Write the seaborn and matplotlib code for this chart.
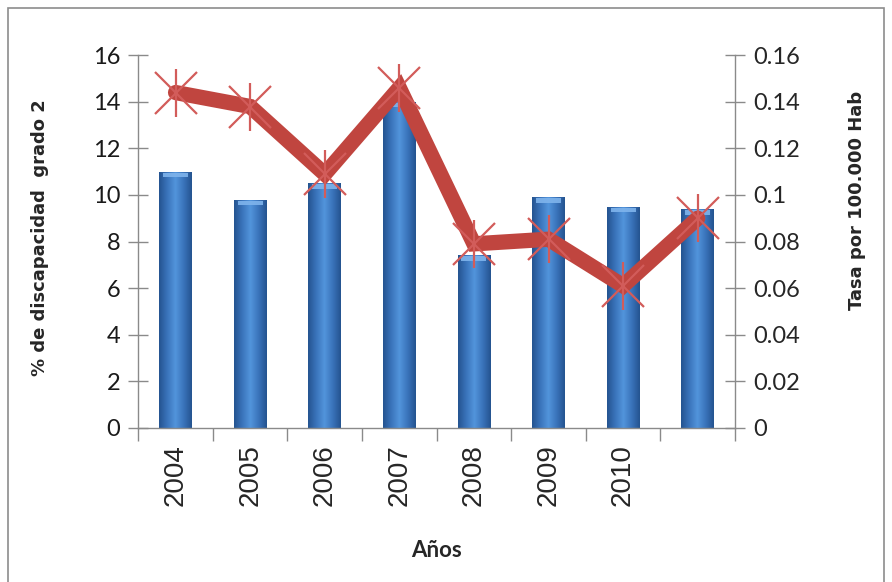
import numpy as np
import pandas as pd
import matplotlib
matplotlib.use("Agg")
import matplotlib.pyplot as plt
from matplotlib.patches import Rectangle
from matplotlib.colors import LinearSegmentedColormap
from matplotlib.ticker import FixedLocator, FuncFormatter
import seaborn as sns

# Data
years = ["2004", "2005", "2006", "2007", "2008", "2009", "2010", ""]
pct_grade2 = [11.0, 9.8, 10.5, 14.0, 7.4, 9.9, 9.5, 9.4]
rate_100k = [0.144, 0.138, 0.109, 0.146, 0.079, 0.081, 0.061, 0.090]

left_ticks = [0, 2, 4, 6, 8, 10, 12, 14, 16]
right_ticks = [0, 0.02, 0.04, 0.06, 0.08, 0.10, 0.12, 0.14, 0.16]

df = pd.DataFrame({"year": years, "pct": pct_grade2, "rate": rate_100k})
df["pos"] = np.arange(len(df))

sns.set_theme(style="white")
plt.rcParams["font.family"] = ["Lato", "DejaVu Sans"]

AXIS_GREY = "#8a8a8a"
LINE_RED = "#c0453f"
MARK_RED = "#d25c5a"

fig = plt.figure(figsize=(8.92, 5.82), dpi=100)
ax = fig.add_axes([0.155, 0.265, 0.669, 0.64])

sns.barplot(data=df, x="year", y="pct", order=years, ax=ax,
            width=0.44, color="#3f7cc4", saturation=1, edgecolor="none")

# cylinder-like shading on every bar
shade = LinearSegmentedColormap.from_list(
    "bar", ["#24538f", "#3a74bb", "#5295dc", "#3a74bb", "#24538f"])
grad = np.linspace(0, 1, 256).reshape(1, -1)
for p in ax.patches:
    x0, y0 = p.get_x(), p.get_y()
    w, h = p.get_width(), p.get_height()
    im = ax.imshow(grad, cmap=shade, aspect="auto",
                   extent=(x0, x0 + w, y0, y0 + h), zorder=2,
                   interpolation="bicubic")
    im.set_clip_path(p)
    p.set_facecolor("none")
    # light bevel at the top of each bar
    ax.add_patch(Rectangle((x0 + w * 0.12, y0 + h - 0.24), w * 0.76, 0.2,
                           facecolor="#7fb4ec", edgecolor="none",
                           zorder=3, alpha=0.9))

ax.set_xlim(-0.5, len(years) - 0.5)
ax.set_ylim(0, 16)
ax.yaxis.set_major_locator(FixedLocator(left_ticks))
ax.yaxis.set_major_formatter(FuncFormatter(lambda v, _: f"{v:g}"))

# category labels centred, tick marks on category boundaries
ax.set_xticks(df["pos"])
ax.set_xticklabels(years, rotation=90, family=["Liberation Sans"], fontsize=20)
ax.set_xticks(np.arange(len(years) + 1) - 0.5, minor=True)
ax.tick_params(axis="x", which="major", length=0, pad=12)
ax.tick_params(axis="x", which="minor", length=9, width=1, color=AXIS_GREY,
               direction="out", bottom=True)
ax.tick_params(axis="y", which="major", length=14, width=1, color=AXIS_GREY,
               direction="inout", labelsize=17, pad=6, left=True)
for lbl in ax.get_yticklabels():
    lbl.set_color("#1a1a1a")

for side in ["top", "right"]:
    ax.spines[side].set_visible(False)
for side in ["left", "bottom"]:
    ax.spines[side].set_color(AXIS_GREY)
    ax.spines[side].set_linewidth(1)

ax.set_xlabel("Años", fontsize=16, fontweight="bold", labelpad=24)
ax.set_ylabel("% de discapacidad  grado 2", fontsize=13, fontweight="bold",
              family=["DejaVu Sans"])
ax.yaxis.set_label_coords(-0.15, 0.51)

# rate per 100.000 inhabitants on the secondary axis
ax2 = ax.twinx()
sns.lineplot(data=df, x="pos", y="rate", ax=ax2, color=LINE_RED,
             linewidth=11, solid_joinstyle="miter", zorder=4, legend=False)
ax2.plot(df["pos"], df["rate"], linestyle="none", marker="x",
         markersize=30, markeredgewidth=1.6, color=MARK_RED, zorder=5)
ax2.plot(df["pos"], df["rate"], linestyle="none", marker="|",
         markersize=34, markeredgewidth=1.6, color=MARK_RED, zorder=5)

ax2.set_ylim(0, 0.16)
ax2.set_xlim(-0.5, len(years) - 0.5)
ax2.yaxis.set_major_locator(FixedLocator(right_ticks))
ax2.yaxis.set_major_formatter(FuncFormatter(lambda v, _: f"{v:g}"))
ax2.tick_params(axis="y", which="major", length=14, width=1, color=AXIS_GREY,
                direction="inout", labelsize=17, pad=6, right=True)
for side in ["top", "left", "bottom"]:
    ax2.spines[side].set_visible(False)
ax2.spines["right"].set_color(AXIS_GREY)
ax2.spines["right"].set_linewidth(1)
ax2.set_ylabel("Tasa por 100.000 Hab", fontsize=13, fontweight="bold",
               family=["DejaVu Sans"])
ax2.yaxis.set_label_coords(1.19, 0.61)
ax2.set_xlabel("")
ax2.grid(False)
ax.grid(False)

# chart-area frame
fig.patches.append(Rectangle((8 / 892, -0.02), 876 / 892, 1.02 - 8 / 582,
                             transform=fig.transFigure, fill=False,
                             edgecolor="#8c8c8c", linewidth=1.2))

fig.savefig("out.png", dpi=100, facecolor="white")
